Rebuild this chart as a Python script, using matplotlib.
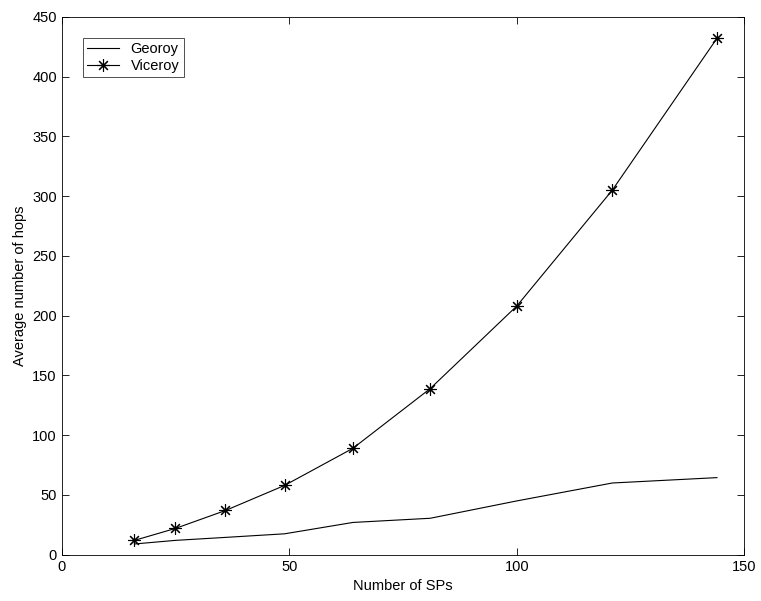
import numpy as np
import matplotlib.pyplot as plt

plt.rcParams['font.family'] = ['Liberation Sans', 'DejaVu Sans']

# number of SPs
sps = [16, 25, 36, 49, 64, 81, 100, 121, 144]
# average number of hops
georoy = [9, 12, 14.5, 17.5, 27, 30.5, 45, 60, 64.5]
viceroy = [12, 22, 37, 58, 89, 139, 208, 305, 432]

fig = plt.figure(figsize=(7.61, 6.01), dpi=100)
ax = fig.add_axes([0.081, 0.077, 0.897, 0.895])

ax.plot(sps, georoy, '-', color='black', linewidth=0.8, label='Georoy')
# matlab style asterisk (8 spokes)
ax.plot(sps, viceroy, '-', color='black', linewidth=0.8, marker=(8, 2, 0),
        markersize=9, markeredgewidth=0.8, label='Viceroy')

ax.set_xlim(0, 150)
ax.set_ylim(0, 450)
ax.set_xticks([0, 50, 100, 150])
ax.set_yticks(np.arange(0, 451, 50))
ax.tick_params(direction='in', labelsize=10.5, top=True, right=True, length=5, width=0.6)
for s in ax.spines.values():
    s.set_linewidth(0.6)
ax.set_xlabel('Number of SPs', fontsize=10.5)
ax.set_ylabel('Average number of hops', fontsize=10.5)

leg = ax.legend(loc='upper left', bbox_to_anchor=(0.02, 0.975), fontsize=10.5,
                fancybox=False, edgecolor='black', handlelength=2.2,
                borderpad=0.3, labelspacing=0.2)
leg.get_frame().set_linewidth(0.6)

fig.savefig('out.png', dpi=100)
